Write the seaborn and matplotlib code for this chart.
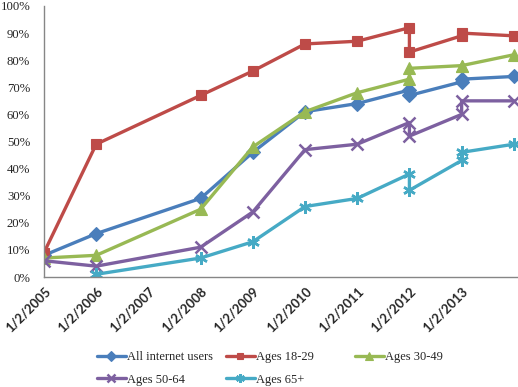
import matplotlib
matplotlib.use("Agg")
import matplotlib.pyplot as plt
import numpy as np
import pandas as pd
import seaborn as sns

# survey dates (2012 and 2013 had two surveys each, drawn at the same x)
years = [2005, 2006, 2008, 2009, 2010, 2011, 2012, 2012, 2013, 2013, 2014]
tick_years = [2005, 2006, 2007, 2008, 2009, 2010, 2011, 2012, 2013]
tick_labels = [f"1/2/{y}" for y in tick_years]

all_users = [8, 16, 29, 46, 61, 64, 69, 67, 72, 73, 74]
ages_18_29 = [9, 49, 67, 76, 86, 87, 92, 83, 89, 90, 89]
ages_30_49 = [7, 8, 25, 48, 61, 68, 73, 77, 78, 78, 82]
ages_50_64 = [6, 4, 11, 24, 47, 49, 57, 52, 60, 65, 65]
ages_65_plus = [np.nan, 1, 7, 13, 26, 29, 38, 32, 43, 46, 49]

series_names = ["All internet users", "Ages 18-29", "Ages 30-49", "Ages 50-64", "Ages 65+"]
series_values = [all_users, ages_18_29, ages_30_49, ages_50_64, ages_65_plus]
colors = ["#4A7EBB", "#BE4B48", "#98B954", "#7D60A0", "#46AAC5"]
markers = ["D", "s", "^", "x", (6, 2, 0)]
marker_sizes = [7.5, 7, 8, 8, 9]

sns.set_style("white")
plt.rcParams["font.family"] = ["Liberation Serif", "DejaVu Serif"]

fig = plt.figure(figsize=(5.18, 3.87), dpi=100)
ax = fig.add_axes([44 / 518, 1 - 277 / 387, (518 - 44) / 518, (277 - 6) / 387])

for name, vals, col, mk, ms in zip(series_names, series_values, colors, markers, marker_sizes):
    df = pd.DataFrame({"year": years, "value": vals}).dropna()
    filled = mk in ("D", "s", "^")
    sns.lineplot(data=df, x="year", y="value", color=col, marker=mk,
                 estimator=None, sort=False, linewidth=2.4, markersize=ms,
                 markeredgecolor=col, markeredgewidth=0.8 if filled else 1.8,
                 label=name, ax=ax)

ax.set_xlim(2005, 2014.08)
ax.set_ylim(0, 100)
ax.set_yticks(range(0, 101, 10))
ax.set_yticklabels([f"{v}%" for v in range(0, 101, 10)], fontsize=9.2)
ax.set_xticks(tick_years)
ax.set_xticklabels(tick_labels, rotation=45, ha="right", va="top",
                   rotation_mode="anchor", fontsize=9.4, fontweight="bold",
                   family="Lato")
ax.tick_params(axis="y", length=0, pad=10)
ax.tick_params(axis="x", length=0, pad=6)
ax.set_xlabel("")
ax.set_ylabel("")
for side in ["top", "right"]:
    ax.spines[side].set_visible(False)
for side in ["left", "bottom"]:
    ax.spines[side].set_color("#868686")
    ax.spines[side].set_linewidth(1)

handles, labels = ax.get_legend_handles_labels()
ax.get_legend().remove()
lookup = dict(zip(labels, handles))
legend_cols = [["All internet users", "Ages 50-64"], ["Ages 18-29", "Ages 65+"], ["Ages 30-49"]]
col_x = [97, 226, 355]
for names, x in zip(legend_cols, col_x):
    leg = fig.legend([lookup[n] for n in names], names, loc="upper left",
                     bbox_to_anchor=(x / 518, 1 - 351 / 387), ncol=1,
                     frameon=False, fontsize=9, handlelength=2.3,
                     handletextpad=0.1, labelspacing=0.85, markerscale=0.7,
                     borderpad=0, borderaxespad=0)

fig.savefig("out.png", dpi=100)
